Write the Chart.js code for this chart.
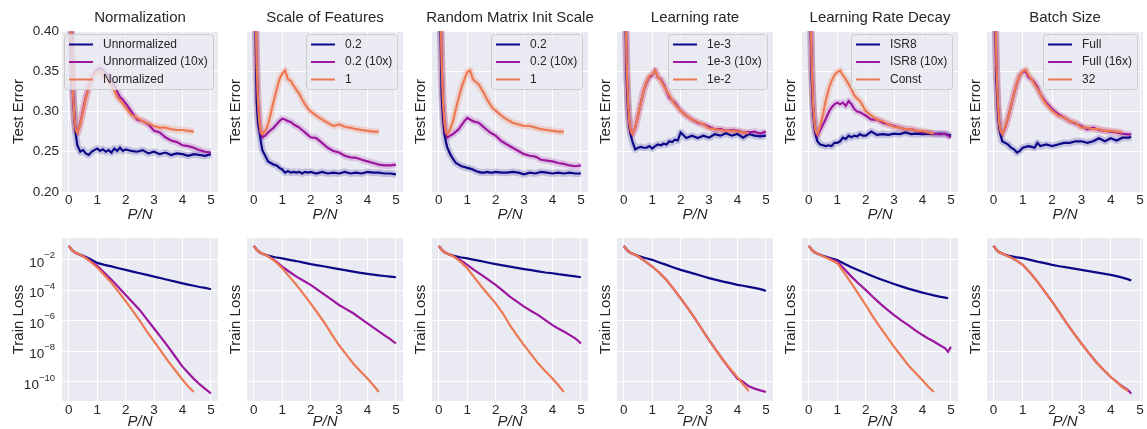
<!DOCTYPE html>
<html>
<head>
<meta charset="utf-8">
<script src="https://cdn.jsdelivr.net/npm/chart.js@4.4.1/dist/chart.umd.min.js"></script>
<style>
  body { margin:0; background:#fff; width:1147px; height:429px; position:relative; overflow:hidden; }
  canvas { position:absolute; }
</style>
</head>
<body>
<script>
// ---- categories / labels ----
const panelTitles = ["Normalization", "Scale of Features", "Random Matrix Init Scale", "Learning rate", "Learning Rate Decay", "Batch Size"];
const legendLabels = [
  ["Unnormalized", "Unnormalized (10x)", "Normalized"],
  ["0.2", "0.2 (10x)", "1"],
  ["0.2", "0.2 (10x)", "1"],
  ["1e-3", "1e-3 (10x)", "1e-2"],
  ["ISR8", "ISR8 (10x)", "Const"],
  ["Full", "Full (16x)", "32"]
];
const legendSide = ["left", "right", "right", "right", "right", "right"];
const xTicks = [0, 1, 2, 3, 4, 5];
const errTicks = [0.20, 0.25, 0.30, 0.35, 0.40];
const lossTickPowers = [-10, -8, -6, -4, -2];

// ---- test error (top row) ----
const testX = [0,0.05,0.1,0.15,0.2,0.25,0.3,0.4,0.5,0.6,0.7,0.8,0.9,1.0,1.1,1.2,1.3,1.4,1.5,1.6,1.7,1.8,1.9,2.0,2.2,2.4,2.6,2.8,3.0,3.2,3.4,3.6,3.8,4.0,4.2,4.4,4.6,4.8,5.0];
const testXBatch = [0,0.05,0.1,0.15,0.2,0.25,0.3,0.4,0.5,0.6,0.7,0.8,0.9,1.0,1.1,1.2,1.3,1.4,1.5,1.6,1.7,1.8,1.9,2.0,2.2,2.4,2.6,2.8,3.0,3.2,3.4,3.6,3.8,4.0,4.2,4.4,4.6,4.7];

const normBlue   = [0.60,0.44,0.37,0.32,0.29,0.27,0.258,0.250,0.252,0.248,0.246,0.250,0.252,0.254,0.251,0.253,0.250,0.252,0.249,0.254,0.251,0.255,0.251,0.253,0.251,0.250,0.252,0.248,0.250,0.247,0.249,0.246,0.248,0.247,0.245,0.247,0.246,0.245,0.247];
const normPurple = [0.60,0.45,0.38,0.32,0.29,0.277,0.273,0.285,0.302,0.318,0.331,0.341,0.348,0.352,0.354,0.352,0.348,0.344,0.341,0.333,0.325,0.318,0.315,0.310,0.300,0.290,0.288,0.284,0.276,0.274,0.268,0.264,0.262,0.258,0.257,0.255,0.252,0.250,0.249];
const normOrange = [0.60,0.45,0.38,0.32,0.29,0.277,0.273,0.284,0.300,0.316,0.330,0.340,0.347,0.350,0.349,0.345,0.340,0.336,0.333,0.326,0.318,0.314,0.310,0.305,0.296,0.292,0.288,0.285,0.282,0.280,0.280,0.278,0.277,0.277,0.276,0.275];

const featBlue   = [0.60,0.42,0.313,0.285,0.275,0.262,0.252,0.245,0.238,0.236,0.234,0.233,0.230,0.228,0.224,0.226,0.224,0.225,0.224,0.225,0.223,0.225,0.224,0.225,0.223,0.225,0.223,0.224,0.223,0.225,0.223,0.224,0.223,0.225,0.224,0.224,0.223,0.223,0.222];
const featPurple = [0.60,0.45,0.36,0.31,0.285,0.272,0.268,0.270,0.274,0.277,0.280,0.284,0.288,0.291,0.290,0.288,0.287,0.284,0.282,0.280,0.277,0.274,0.271,0.268,0.267,0.261,0.255,0.251,0.249,0.245,0.243,0.2425,0.240,0.238,0.236,0.234,0.233,0.233,0.234];
const featOrange = [0.60,0.45,0.36,0.31,0.285,0.274,0.272,0.276,0.284,0.298,0.313,0.327,0.340,0.347,0.351,0.340,0.338,0.332,0.327,0.322,0.315,0.309,0.304,0.300,0.295,0.290,0.286,0.282,0.284,0.281,0.280,0.278,0.277,0.276,0.275,0.275];

const initBlue   = [0.60,0.42,0.32,0.29,0.272,0.262,0.255,0.247,0.241,0.236,0.234,0.232,0.231,0.230,0.229,0.228,0.226,0.225,0.224,0.224,0.225,0.224,0.224,0.225,0.224,0.224,0.225,0.224,0.222,0.224,0.223,0.225,0.224,0.223,0.224,0.223,0.224,0.223,0.223];
const initPurple = [0.60,0.45,0.36,0.31,0.285,0.272,0.2675,0.270,0.272,0.275,0.278,0.283,0.288,0.292,0.290,0.288,0.287,0.286,0.283,0.280,0.277,0.274,0.272,0.270,0.2633,0.259,0.255,0.251,0.247,0.245,0.244,0.240,0.239,0.238,0.236,0.235,0.233,0.232,0.233];
const initOrange = [0.60,0.45,0.36,0.31,0.285,0.274,0.272,0.278,0.288,0.303,0.317,0.330,0.340,0.349,0.351,0.340,0.337,0.334,0.328,0.322,0.315,0.309,0.304,0.301,0.295,0.290,0.286,0.284,0.282,0.282,0.280,0.278,0.277,0.276,0.275,0.275];

const lrBlue   = [0.60,0.43,0.34,0.30,0.28,0.27,0.263,0.253,0.255,0.256,0.255,0.255,0.257,0.254,0.257,0.259,0.258,0.260,0.259,0.263,0.262,0.265,0.264,0.274,0.267,0.270,0.267,0.270,0.2675,0.2717,0.270,0.273,0.270,0.272,0.2675,0.272,0.270,0.269,0.270];
const lrPurple = [0.60,0.45,0.36,0.31,0.285,0.275,0.272,0.280,0.295,0.311,0.326,0.336,0.3425,0.345,0.351,0.3425,0.340,0.334,0.326,0.3175,0.314,0.311,0.306,0.301,0.295,0.290,0.286,0.284,0.281,0.278,0.278,0.276,0.277,0.276,0.274,0.274,0.275,0.2725,0.275];
const lrOrange = [0.60,0.45,0.36,0.31,0.285,0.275,0.272,0.280,0.295,0.311,0.326,0.337,0.344,0.346,0.351,0.343,0.339,0.332,0.326,0.320,0.314,0.309,0.305,0.301,0.295,0.290,0.287,0.284,0.279,0.278,0.277,0.276,0.276,0.275,0.274,0.273];

const decBlue   = [0.60,0.43,0.34,0.30,0.28,0.27,0.263,0.259,0.258,0.257,0.258,0.257,0.261,0.261,0.263,0.2675,0.266,0.270,0.268,0.270,0.269,0.272,0.270,0.270,0.275,0.271,0.272,0.271,0.2725,0.272,0.274,0.272,0.2725,0.272,0.2725,0.272,0.2725,0.272,0.270];
const decPurple = [0.60,0.45,0.36,0.31,0.285,0.274,0.270,0.277,0.284,0.291,0.299,0.305,0.309,0.311,0.309,0.311,0.307,0.313,0.309,0.303,0.300,0.299,0.297,0.295,0.290,0.290,0.286,0.284,0.282,0.280,0.278,0.278,0.276,0.274,0.274,0.2725,0.2717,0.2725,0.2675];
const decOrange = [0.60,0.45,0.36,0.31,0.285,0.275,0.272,0.282,0.297,0.314,0.328,0.338,0.345,0.349,0.351,0.345,0.340,0.334,0.328,0.320,0.316,0.313,0.307,0.301,0.295,0.290,0.288,0.284,0.281,0.280,0.278,0.278,0.276,0.276,0.274,0.2725];

const batchBlue   = [0.60,0.43,0.34,0.30,0.28,0.27,0.263,0.261,0.259,0.255,0.253,0.249,0.251,0.255,0.256,0.257,0.256,0.255,0.261,0.257,0.258,0.259,0.258,0.257,0.259,0.261,0.261,0.263,0.263,0.261,0.263,0.2667,0.263,0.2667,0.264,0.2675,0.2675,0.2683];
const batchPurple = [0.60,0.45,0.36,0.31,0.285,0.275,0.272,0.280,0.2925,0.307,0.322,0.335,0.345,0.349,0.350,0.3425,0.340,0.336,0.330,0.322,0.316,0.311,0.307,0.303,0.297,0.2925,0.288,0.285,0.282,0.278,0.280,0.277,0.276,0.275,0.274,0.2725,0.2717,0.2717];
const batchOrange = [0.60,0.45,0.36,0.31,0.285,0.275,0.272,0.281,0.2925,0.308,0.322,0.336,0.345,0.350,0.352,0.345,0.340,0.334,0.328,0.322,0.314,0.309,0.305,0.301,0.295,0.2925,0.288,0.286,0.280,0.280,0.278,0.278,0.276,0.276,0.275,0.274];

// ---- train loss (bottom row), log10 of the loss ----
const lossX = [0,0.1,0.2,0.35,0.5,0.75,1,1.25,1.5,1.75,2,2.25,2.5,2.75,3,3.25,3.5,3.75,4,4.2,4.4,4.6,4.8,4.9,5];
const lossXBatch = [0,0.1,0.2,0.35,0.5,0.75,1,1.25,1.5,1.75,2,2.25,2.5,2.75,3,3.25,3.5,3.75,4,4.2,4.4,4.6,4.7];

const normLossBlue   = [-1.08,-1.34,-1.5,-1.63,-1.74,-1.95,-2.2,-2.33,-2.43,-2.55,-2.66,-2.77,-2.88,-2.99,-3.1,-3.21,-3.32,-3.43,-3.54,-3.62,-3.7,-3.78,-3.84,-3.88,-3.93];
const normLossPurple = [-1.08,-1.34,-1.5,-1.63,-1.76,-2.05,-2.4,-2.85,-3.3,-3.8,-4.3,-4.8,-5.3,-5.9,-6.5,-7.1,-7.7,-8.35,-9.0,-9.4,-9.8,-10.15,-10.45,-10.6,-10.75];
const normLossOrange = [-1.08,-1.34,-1.5,-1.63,-1.77,-2.1,-2.5,-3.0,-3.5,-4.1,-4.7,-5.35,-6.0,-6.7,-7.35,-8.0,-8.65,-9.25,-9.85,-10.3,-10.66];

const featLossBlue   = [-1.08,-1.34,-1.5,-1.63,-1.72,-1.83,-1.91,-2.0,-2.08,-2.18,-2.28,-2.36,-2.44,-2.53,-2.61,-2.69,-2.77,-2.85,-2.92,-2.97,-3.02,-3.06,-3.1,-3.12,-3.14];
const featLossPurple = [-1.08,-1.34,-1.5,-1.63,-1.76,-2.05,-2.44,-2.78,-3.1,-3.37,-3.64,-3.97,-4.3,-4.63,-4.96,-5.23,-5.5,-5.84,-6.17,-6.43,-6.69,-6.95,-7.2,-7.35,-7.48];
const featLossOrange = [-1.08,-1.34,-1.5,-1.63,-1.77,-2.1,-2.55,-3.1,-3.64,-4.25,-4.85,-5.5,-6.17,-6.9,-7.6,-8.2,-8.8,-9.3,-9.78,-10.2,-10.66];

const initLossBlue   = [-1.08,-1.34,-1.5,-1.63,-1.72,-1.83,-1.91,-2.0,-2.09,-2.19,-2.28,-2.36,-2.45,-2.53,-2.61,-2.68,-2.76,-2.83,-2.88,-2.94,-2.99,-3.04,-3.08,-3.11,-3.14];
const initLossPurple = [-1.08,-1.34,-1.5,-1.63,-1.75,-2.0,-2.33,-2.67,-2.99,-3.32,-3.64,-4.02,-4.41,-4.74,-5.07,-5.35,-5.62,-5.95,-6.28,-6.5,-6.7,-6.92,-7.15,-7.3,-7.48];
const initLossOrange = [-1.08,-1.34,-1.5,-1.63,-1.77,-2.1,-2.55,-3.15,-3.75,-4.3,-4.85,-5.5,-6.28,-6.95,-7.6,-8.2,-8.8,-9.3,-9.78,-10.2,-10.66];

const lrLossBlue   = [-1.08,-1.34,-1.5,-1.63,-1.74,-1.88,-2.0,-2.17,-2.33,-2.5,-2.66,-2.79,-2.92,-3.06,-3.2,-3.31,-3.43,-3.53,-3.64,-3.7,-3.77,-3.84,-3.92,-3.97,-4.04];
const lrLossPurple = [-1.08,-1.34,-1.5,-1.63,-1.77,-2.1,-2.44,-2.85,-3.32,-3.9,-4.52,-5.17,-5.84,-6.55,-7.26,-7.93,-8.58,-9.2,-9.78,-10.0,-10.29,-10.44,-10.55,-10.6,-10.66];
const lrLossOrange = [-1.08,-1.34,-1.5,-1.63,-1.77,-2.1,-2.44,-2.85,-3.32,-3.9,-4.52,-5.17,-5.84,-6.55,-7.26,-7.93,-8.58,-9.15,-9.7,-10.15,-10.6];

const decLossBlue   = [-1.08,-1.34,-1.5,-1.63,-1.74,-1.88,-2.02,-2.25,-2.48,-2.68,-2.88,-3.07,-3.25,-3.42,-3.58,-3.74,-3.89,-4.02,-4.15,-4.24,-4.33,-4.41,-4.48,-4.52];
const decLossPurple = [-1.08,-1.34,-1.5,-1.63,-1.75,-1.95,-2.11,-2.6,-3.1,-3.55,-3.97,-4.42,-4.85,-5.25,-5.62,-5.97,-6.28,-6.62,-6.93,-7.15,-7.35,-7.58,-7.8,-8.03,-7.7];
const decLossOrange = [-1.08,-1.34,-1.5,-1.63,-1.77,-1.98,-2.22,-2.85,-3.54,-4.25,-4.96,-5.7,-6.39,-7.05,-7.7,-8.3,-8.91,-9.4,-9.89,-10.3,-10.66];

const batchLossBlue   = [-1.08,-1.34,-1.5,-1.63,-1.72,-1.82,-1.89,-2.0,-2.12,-2.22,-2.33,-2.42,-2.5,-2.58,-2.66,-2.74,-2.82,-2.9,-2.99,-3.07,-3.17,-3.28,-3.36];
const batchLossPurple = [-1.08,-1.34,-1.5,-1.63,-1.76,-2.0,-2.33,-2.85,-3.43,-4.08,-4.74,-5.45,-6.17,-6.83,-7.48,-8.1,-8.69,-9.2,-9.68,-10.0,-10.3,-10.55,-10.77];
const batchLossOrange = [-1.08,-1.34,-1.5,-1.63,-1.76,-2.0,-2.33,-2.85,-3.43,-4.08,-4.74,-5.45,-6.17,-6.83,-7.48,-8.1,-8.69,-9.2,-9.68,-10.0,-10.35,-10.6];

const testPanels = [
  [testX, [normBlue, normPurple, normOrange]],
  [testX, [featBlue, featPurple, featOrange]],
  [testX, [initBlue, initPurple, initOrange]],
  [testX, [lrBlue, lrPurple, lrOrange]],
  [testX, [decBlue, decPurple, decOrange]],
  [testXBatch, [batchBlue, batchPurple, batchOrange]]
];
const lossPanels = [
  [lossX, [normLossBlue, normLossPurple, normLossOrange]],
  [lossX, [featLossBlue, featLossPurple, featLossOrange]],
  [lossX, [initLossBlue, initLossPurple, initLossOrange]],
  [lossX, [lrLossBlue, lrLossPurple, lrLossOrange]],
  [lossX, [decLossBlue, decLossPurple, decLossOrange]],
  [lossXBatch, [batchLossBlue, batchLossPurple, batchLossOrange]]
];

// ---- style ----
const FONT = "'Liberation Sans', Arial, sans-serif";
const TEXT = "#262626";
const seriesColors = ["#0d0887", "#9c179e", "#ed7953"];
const bandColors = ["rgba(13,8,135,0.18)", "rgba(156,23,158,0.18)", "rgba(237,121,83,0.22)"];
const plotLefts = [62, 247, 432, 617, 802, 987];
const plotW = 156;
const padRight = 20;
const xMins = [-0.24, -0.24, -0.24, -0.24, -0.24, -0.22];
const xMaxs = [5.25, 5.25, 5.25, 5.25, 5.25, 5.1];

const axesBg = {
  id: "axesBg",
  beforeDraw(chart) {
    const { ctx, chartArea: a } = chart;
    ctx.save();
    ctx.fillStyle = "#eaeaf2";
    ctx.fillRect(a.left, a.top, a.width, a.height);
    ctx.restore();
  }
};

function titlePlugin(text) {
  return {
    id: "panelTitle",
    afterDraw(chart) {
      const { ctx, chartArea: a } = chart;
      ctx.save();
      ctx.font = `15px ${FONT}`;
      ctx.fillStyle = TEXT;
      ctx.textAlign = "center";
      ctx.textBaseline = "middle";
      ctx.fillText(text, (a.left + a.right) / 2, 17.5);
      ctx.restore();
    }
  };
}

function legendPlugin(labels, side) {
  return {
    id: "boxLegend",
    afterDatasetsDraw(chart) {
      const { ctx, chartArea: a } = chart;
      ctx.save();
      ctx.font = `12px ${FONT}`;
      const tw = Math.max(...labels.map(l => ctx.measureText(l).width));
      const w = Math.round(39 + tw + 5), h = 55;
      const x = side === "left" ? a.left + 2 : a.right - 6 - w;
      const y = a.top + 3;
      ctx.fillStyle = "rgba(234,234,242,0.8)";
      ctx.strokeStyle = "#cccccc";
      ctx.lineWidth = 1;
      ctx.beginPath();
      ctx.roundRect(x + 0.5, y + 0.5, w, h, 3);
      ctx.fill();
      ctx.stroke();
      labels.forEach((l, i) => {
        const cy = y + 10.5 + i * 17.5;
        ctx.strokeStyle = seriesColors[i];
        ctx.lineWidth = 2;
        ctx.beginPath();
        ctx.moveTo(x + 5, cy);
        ctx.lineTo(x + 29, cy);
        ctx.stroke();
        ctx.fillStyle = TEXT;
        ctx.textBaseline = "middle";
        ctx.fillText(l, x + 39, cy);
      });
      ctx.restore();
    }
  };
}

const powerLabels = {
  id: "powerLabels",
  afterDraw(chart) {
    const s = chart.scales.y, ctx = chart.ctx;
    const r = chart.chartArea.left - 7;
    ctx.save();
    ctx.fillStyle = TEXT;
    ctx.textAlign = "right";
    ctx.textBaseline = "middle";
    lossTickPowers.forEach(p => {
      const y = s.getPixelForValue(Math.pow(10, p));
      const exp = "\u2212" + Math.abs(p);
      ctx.font = `9.5px ${FONT}`;
      ctx.fillText(exp, r, y - 4);
      const ew = ctx.measureText(exp).width;
      ctx.font = `13.5px ${FONT}`;
      ctx.fillText("10", r - ew, y + 3);
    });
    ctx.restore();
  }
};

function buildSets(xs, ysList, toY, band) {
  const lines = [], bands = [];
  ysList.forEach((ys, i) => {
    const pts = ys.map((v, k) => ({ x: xs[k], y: toY(v) }));
    lines.push({ data: pts, borderColor: seriesColors[i], borderWidth: 2.2, pointRadius: 0, tension: 0, clip: 0, order: 2 - i });
    if (band) bands.push({ data: pts, borderColor: bandColors[i], borderWidth: 7, pointRadius: 0, tension: 0, clip: 0, order: 10 - i, borderJoinStyle: "round" });
  });
  return lines.concat(bands);
}

function makePanel(row, col) {
  const left = col === 0 ? 0 : plotLefts[col] - 30;
  const yW = plotLefts[col] - left;
  const top = row === 0 ? 0 : 222;
  const height = row === 0 ? 222 : 207;
  const padTop = row === 0 ? 31 : 16;
  const xH = row === 0 ? 30 : 28;
  const cv = document.createElement("canvas");
  cv.width = yW + plotW + padRight;
  cv.height = height;
  cv.style.left = left + "px";
  cv.style.top = top + "px";
  document.body.appendChild(cv);

  const panel = row === 0 ? testPanels[col] : lossPanels[col];
  const datasets = row === 0
    ? buildSets(panel[0], panel[1], v => v, true)
    : buildSets(panel[0], panel[1], v => Math.pow(10, v), false);

  const yScale = row === 0
    ? {
        type: "linear", min: 0.2, max: 0.4,
        afterBuildTicks: s => { s.ticks = errTicks.map(v => ({ value: v })); },
        ticks: { display: col === 0, callback: v => v.toFixed(2), padding: 3, color: TEXT, font: { family: FONT, size: 13.5 } }
      }
    : {
        type: "logarithmic", min: Math.pow(10, -11.25), max: Math.pow(10, -0.57),
        afterBuildTicks: s => { s.ticks = lossTickPowers.map(p => ({ value: Math.pow(10, p) })); },
        ticks: { display: false }
      };
  Object.assign(yScale, {
    grid: { color: "#ffffff", lineWidth: 1, drawTicks: false },
    border: { display: false },
    title: { display: true, text: row === 0 ? "Test Error" : "Train Loss", color: TEXT, font: { family: FONT, size: 15, lineHeight: 1.2 }, padding: { top: 10, bottom: 0 } },
    afterFit: s => { s.width = yW; }
  });

  const plugins = [axesBg];
  if (row === 0) plugins.push(titlePlugin(panelTitles[col]), legendPlugin(legendLabels[col], legendSide[col]));
  if (row === 1 && col === 0) plugins.push(powerLabels);

  new Chart(cv, {
    type: "line",
    data: { datasets },
    options: {
      responsive: false,
      animation: false,
      devicePixelRatio: 1,
      layout: { padding: { top: padTop, right: padRight, left: 0, bottom: 0 } },
      plugins: { legend: { display: false }, tooltip: { enabled: false } },
      scales: {
        x: {
          type: "linear", min: xMins[col], max: xMaxs[col],
          afterBuildTicks: s => { s.ticks = xTicks.filter(v => v <= xMaxs[col]).map(v => ({ value: v })); },
          ticks: { padding: row === 0 ? 0 : 1, color: TEXT, font: { family: FONT, size: 13.5 } },
          grid: { color: "#ffffff", lineWidth: 1, drawTicks: false },
          border: { display: false },
          title: { display: true, text: "P/N", color: TEXT, font: { family: FONT, size: 15, style: "italic", lineHeight: 1 }, padding: { top: 0, bottom: 0 } },
          afterFit: s => { s.height = xH; }
        },
        y: yScale
      }
    },
    plugins
  });
}

for (let r = 0; r < 2; r++) {
  for (let c = 0; c < 6; c++) makePanel(r, c);
}
</script>
</body>
</html>
